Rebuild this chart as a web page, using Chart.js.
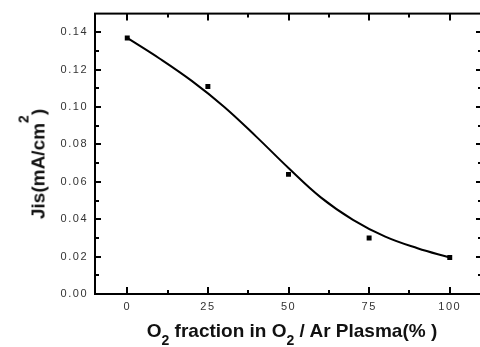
<!DOCTYPE html>
<html>
<head>
<meta charset="utf-8">
<script src="https://cdn.jsdelivr.net/npm/chart.js@4/dist/chart.umd.min.js"></script>
<style>
  html, body { margin: 0; padding: 0; background: #fff; overflow: hidden; width: 480px; height: 347px; }
  #wrap { position: relative; width: 490px; height: 347px; }
  canvas { position: absolute; left: 0; top: 0; }
  .ttl { position: absolute; font: bold 19px "Liberation Sans", Arial, sans-serif; line-height: 19px; color: #111; white-space: nowrap; }
  #xTitle { left: 292px; top: 321px; transform: translateX(-50%); }
  #yTitle { left: 39px; top: 164px; transform: translate(-50%, -50%) rotate(-90deg); }
  .sub { position: relative; top: 8px; font-size: 14px; }
  .sup { position: relative; top: -16px; font-size: 14px; }
</style>
</head>
<body>
<div id="wrap">
  <canvas id="c" width="490" height="347"></canvas>
  <div class="ttl" id="xTitle">O<span class="sub">2</span> fraction in O<span class="sub">2</span> / Ar Plasma(% )</div>
  <div class="ttl" id="yTitle">Jis(mA/cm<span class="sup">2</span>)</div>
</div>
<script>
  // measured points
  var o2Fraction = [0, 25, 50, 75, 100];
  var jis = [0.137, 0.111, 0.064, 0.030, 0.0195];

  // fitted curve
  var fitX = [0, 10, 20, 30, 40, 50, 60, 70, 80, 90, 100];
  var fitY = [0.137, 0.126, 0.114, 0.1002, 0.0842, 0.0674, 0.0517, 0.0397, 0.0307, 0.0245, 0.0195];

  var xTicks = [0, 25, 50, 75, 100];
  var xMinor = [12.5, 37.5, 62.5, 87.5];
  var yTicks = [0, 0.02, 0.04, 0.06, 0.08, 0.10, 0.12, 0.14];
  var yMinor = [0.01, 0.03, 0.05, 0.07, 0.09, 0.11, 0.13];

  function pairs(xs, ys) {
    return xs.map(function (x, i) { return { x: x, y: ys[i] }; });
  }

  // frame with inward ticks on all four sides
  var framePlugin = {
    id: "frame",
    beforeDraw: function (chart) { chart.ctx.letterSpacing = "1.5px"; },
    afterDraw: function (chart) {
      var ctx = chart.ctx, a = chart.chartArea, sx = chart.scales.x, sy = chart.scales.y;
      ctx.save();
      ctx.letterSpacing = "0px";
      ctx.strokeStyle = "#000";
      ctx.lineWidth = 2;
      ctx.strokeRect(a.left, a.top, a.right - a.left, a.bottom - a.top);
      ctx.beginPath();
      function vt(v, len) {
        var p = Math.round(sx.getPixelForValue(v));
        ctx.moveTo(p, a.bottom); ctx.lineTo(p, a.bottom - len);
        ctx.moveTo(p, a.top); ctx.lineTo(p, a.top + len);
      }
      function ht(v, len) {
        var p = Math.round(sy.getPixelForValue(v));
        ctx.moveTo(a.left, p); ctx.lineTo(a.left + len, p);
        ctx.moveTo(a.right, p); ctx.lineTo(a.right - len, p);
      }
      xTicks.forEach(function (v) { vt(v, 7); });
      xMinor.forEach(function (v) { vt(v, 4); });
      yTicks.forEach(function (v) { ht(v, 6); });
      yMinor.forEach(function (v) { ht(v, 4); });
      ctx.stroke();
      ctx.restore();
    }
  };

  var tickFont = { family: "'Liberation Sans', Arial, sans-serif", size: 11 };

  new Chart(document.getElementById("c"), {
    type: "scatter",
    data: {
      datasets: [
        { label: "fit", data: pairs(fitX, fitY), showLine: true, borderColor: "#000", borderWidth: 2,
          pointRadius: 0, tension: 0.4, fill: false },
        { label: "Jis", data: pairs(o2Fraction, jis), pointStyle: "rect", pointRadius: 3.5,
          backgroundColor: "#000", borderColor: "#000", borderWidth: 0 }
      ]
    },
    options: {
      responsive: false,
      animation: false,
      devicePixelRatio: 1,
      layout: { padding: { left: 0, top: 10, right: 8, bottom: 0 } },
      plugins: { legend: { display: false }, tooltip: { enabled: false } },
      scales: {
        x: {
          type: "linear", min: -10, max: 110,
          grid: { display: false, drawTicks: false }, border: { display: false },
          afterBuildTicks: function (s) { s.ticks = xTicks.map(function (v) { return { value: v }; }); },
          afterFit: function (s) { s.height = 53; },
          ticks: { font: tickFont, color: "#333", padding: 6, maxRotation: 0,
            callback: function (v) { return String(v); } }
        },
        y: {
          type: "linear", min: 0, max: 0.15,
          grid: { display: false, drawTicks: false }, border: { display: false },
          afterBuildTicks: function (s) { s.ticks = yTicks.map(function (v) { return { value: v }; }); },
          afterFit: function (s) { s.width = 95; },
          ticks: { font: tickFont, color: "#333", padding: 7,
            callback: function (v) { return Number(v).toFixed(2); } }
        }
      }
    },
    plugins: [framePlugin]
  });
</script>
</body>
</html>
